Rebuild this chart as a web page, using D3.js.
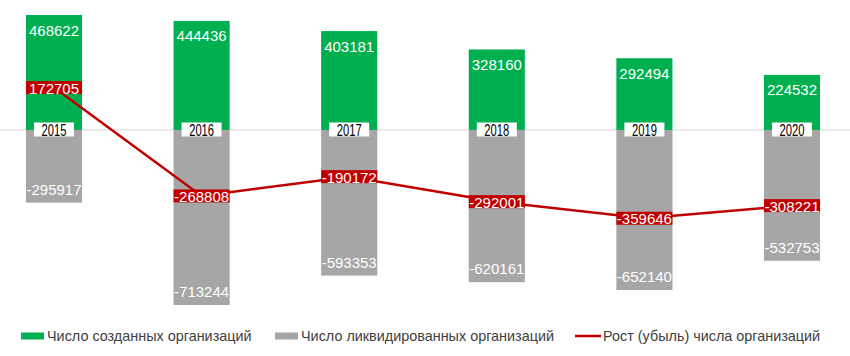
<!DOCTYPE html>
<html><head><meta charset="utf-8">
<script src="https://cdn.jsdelivr.net/npm/d3@7"></script>
<style>body{margin:0;background:#fff}svg{display:block}</style>
</head><body><svg id="c" width="850" height="356"></svg>
<script>
const years = ["2015","2016","2017","2018","2019","2020"];
const created = [468622, 444436, 403181, 328160, 292494, 224532];
const liquidated = [-295917, -713244, -593353, -620161, -652140, -532753];
const growth = [172705, -268808, -190172, -292001, -359646, -308221];
const legendLabels = ["Число созданных организаций", "Число ликвидированных организаций", "Рост (убыль) числа организаций"];

const W = 850, H = 356;
const GREEN = "#00b050", GRAY = "#a6a6a6", RED = "#c00000";
const FONT = "'Liberation Sans', Arial, sans-serif";

const svg = d3.select("#c");
const x = d3.scaleBand().domain(years).range([-19.8, 865.8]).paddingInner(0.62).paddingOuter(0.31);
const y = d3.scaleLinear().domain([-713244, 468622]).range([305, 15]);
const bw = x.bandwidth();
const cx = d => x(d) + bw / 2;

// zero line
svg.append("line").attr("x1", 0).attr("x2", W).attr("y1", y(0)).attr("y2", y(0))
  .attr("stroke", "#d9d9d9").attr("stroke-width", 1);

// bars
svg.selectAll("rect.c").data(years).join("rect").attr("class","c")
  .attr("x", d => x(d)).attr("width", bw)
  .attr("y", (d,i) => y(created[i])).attr("height", (d,i) => y(0) - y(created[i]))
  .attr("fill", GREEN);
svg.selectAll("rect.l").data(years).join("rect").attr("class","l")
  .attr("x", d => x(d)).attr("width", bw)
  .attr("y", y(0)).attr("height", (d,i) => y(liquidated[i]) - y(0))
  .attr("fill", GRAY);

// bar labels
svg.selectAll("text.cl").data(years).join("text").attr("class","cl")
  .attr("x", cx).attr("y", (d,i) => y(created[i]) + 15)
  .attr("dominant-baseline", "central").attr("text-anchor", "middle")
  .attr("font-family", FONT).attr("font-size", 15).attr("fill", "#fff")
  .text((d,i) => created[i]);
svg.selectAll("text.ll").data(years).join("text").attr("class","ll")
  .attr("x", cx).attr("y", (d,i) => y(liquidated[i]) - 13.5)
  .attr("dominant-baseline", "central").attr("text-anchor", "middle")
  .attr("font-family", FONT).attr("font-size", 15).attr("fill", "#fff")
  .text((d,i) => liquidated[i]);

// year labels
const yl = svg.selectAll("g.yl").data(years).join("g").attr("class","yl");
yl.append("rect").attr("x", d => cx(d) - 20).attr("y", y(0) - 7.5).attr("width", 40).attr("height", 14).attr("fill", "#fff");
yl.append("text").attr("transform", d => `translate(${cx(d)},${y(0) + 0.5}) scale(0.7,1)`)
  .attr("dominant-baseline", "central").attr("text-anchor", "middle")
  .attr("font-family", FONT).attr("font-size", 16).attr("fill", "#000")
  .text(d => d);

// growth line
const line = d3.line().x((d,i) => cx(years[i])).y(d => y(d));
svg.append("path").datum(growth).attr("d", line).attr("fill", "none")
  .attr("stroke", RED).attr("stroke-width", 2.5);
const gl = svg.selectAll("g.gl").data(years).join("g").attr("class","gl");
gl.append("rect").attr("x", d => x(d)).attr("width", bw)
  .attr("y", (d,i) => y(growth[i]) - 6.5).attr("height", 13).attr("fill", RED);
gl.append("text").attr("x", cx).attr("y", (d,i) => y(growth[i]) + 0.5)
  .attr("dominant-baseline", "central").attr("text-anchor", "middle")
  .attr("font-family", FONT).attr("font-size", 15).attr("fill", "#fff")
  .text((d,i) => growth[i]);

// legend
const legX = [21, 275, 575];
const legY = 336;
const lg = svg.selectAll("g.lg").data(legendLabels).join("g").attr("class","lg")
  .attr("transform", (d,i) => `translate(${legX[i]},${legY})`);
lg.each(function(d,i){
  const g = d3.select(this);
  if (i < 2) g.append("rect").attr("x", 0).attr("y", -3.5).attr("width", 23).attr("height", 7).attr("fill", i === 0 ? GREEN : GRAY);
  else g.append("line").attr("x1", 0).attr("x2", 26).attr("y1", 0).attr("y2", 0).attr("stroke", RED).attr("stroke-width", 2.5);
  g.append("text").attr("x", i < 2 ? 26 : 28).attr("y", 0).attr("dominant-baseline", "central")
    .attr("font-family", FONT).attr("font-size", 14.4).attr("fill", "#404040").text(d);
});
</script></body></html>
